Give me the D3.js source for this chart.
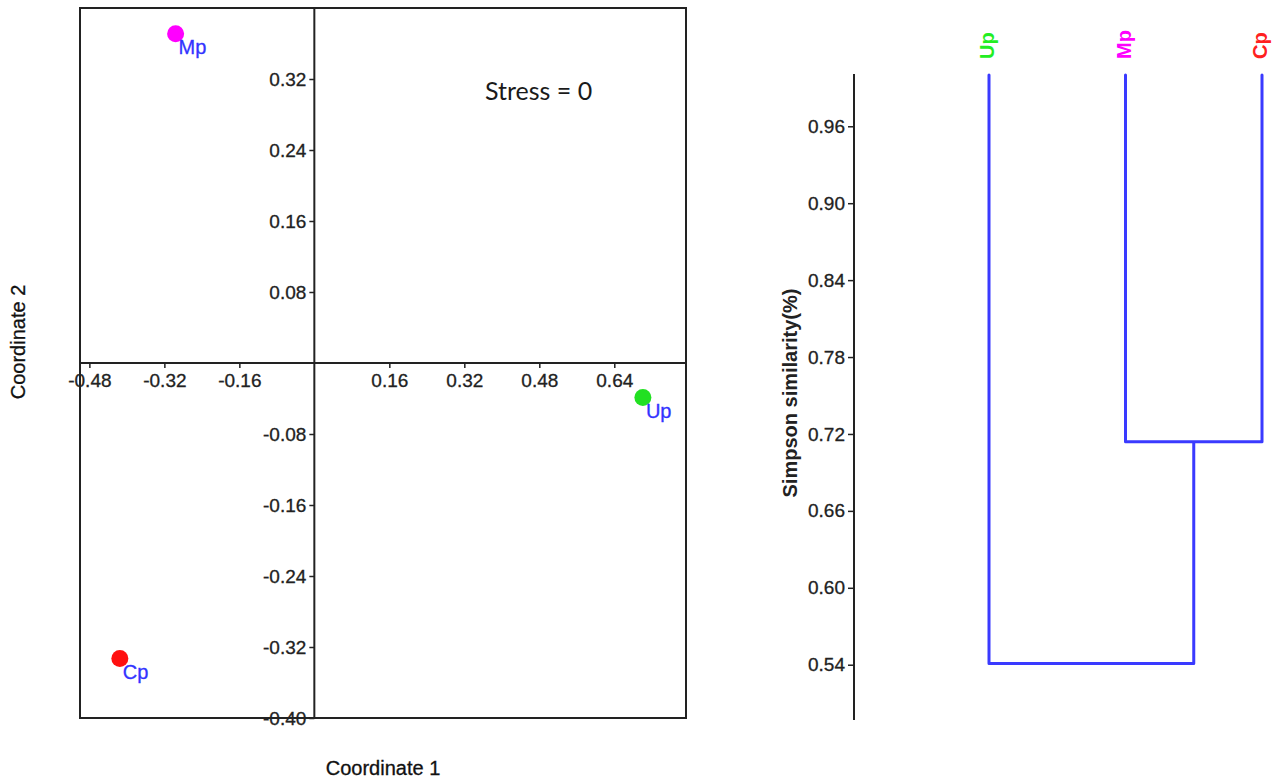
<!DOCTYPE html>
<html>
<head>
<meta charset="utf-8">
<script src="https://cdn.jsdelivr.net/npm/d3@7"></script>
<style>
  html, body { margin: 0; padding: 0; background: #fff; }
  svg { display: block; }
  text { font-family: "Liberation Sans", Arial, sans-serif; }
</style>
</head>
<body>
<svg id="chart" width="1281" height="782"></svg>
<script>
// ---- NMDS data ----
const sites = ["Mp", "Up", "Cp"];
const coord1 = [-0.296, 0.701, -0.415];
const coord2 = [0.371, -0.039, -0.333];
const siteColors = ["#ff00ff", "#22e022", "#ff1010"];
const xTicks = [-0.48, -0.32, -0.16, 0.16, 0.32, 0.48, 0.64];
const yTicks = [0.32, 0.24, 0.16, 0.08, -0.08, -0.16, -0.24, -0.32, -0.40];
const stressText = "Stress = 0";

// ---- Dendrogram data ----
const leaves = ["Up", "Mp", "Cp"];
const leafColors = ["#22ee22", "#ff00ff", "#ff2020"];
const mergeMpCp = 0.714;
const mergeRoot = 0.541;
const simTicks = [0.54, 0.60, 0.66, 0.72, 0.78, 0.84, 0.90, 0.96];

const svg = d3.select("#chart");

// ================= Left: NMDS scatter =================
const box = {l: 80, r: 686, t: 8, b: 718};
const x = d3.scaleLinear().domain([-0.5, 0.793]).range([box.l, box.r]);
const y = d3.scaleLinear().domain([-0.4, 0.4]).range([box.b, box.t]);
const fmt = d => d3.format(".2f")(d).replace("−", "-");

const left = svg.append("g");
left.append("rect")
  .attr("x", box.l).attr("y", box.t)
  .attr("width", box.r - box.l).attr("height", box.b - box.t)
  .attr("fill", "none").attr("stroke", "#222").attr("stroke-width", 2);

// horizontal axis at y=0
const xAxis = d3.axisBottom(x).tickValues(xTicks).tickSize(5).tickPadding(6).tickFormat(fmt);
const gx = left.append("g").attr("transform", `translate(0,${y(0)})`).call(xAxis);
gx.select(".domain").remove();
left.append("line").attr("x1", box.l).attr("x2", box.r).attr("y1", y(0)).attr("y2", y(0))
  .attr("stroke", "#222").attr("stroke-width", 2);

// vertical axis at x=0
const yAxis = d3.axisLeft(y).tickValues(yTicks).tickSize(5).tickPadding(3).tickFormat(fmt);
const gy = left.append("g").attr("transform", `translate(${x(0)},0)`).call(yAxis);
gy.select(".domain").remove();
left.append("line").attr("x1", x(0)).attr("x2", x(0)).attr("y1", box.t).attr("y2", box.b)
  .attr("stroke", "#222").attr("stroke-width", 2);

[gx, gy].forEach(g => {
  g.selectAll(".tick line").attr("stroke", "#222").attr("stroke-width", 1.5);
  g.selectAll(".tick text").attr("fill", "#222").style("font-size", "19px")
    .attr("stroke", "#222").attr("stroke-width", 0.3)
    .style("font-family", "'Liberation Sans', Arial, sans-serif");
});

// points
const pts = left.append("g");
sites.forEach((s, i) => {
  pts.append("circle").attr("cx", x(coord1[i])).attr("cy", y(coord2[i])).attr("r", 8.5)
    .attr("fill", siteColors[i]);
  pts.append("text").attr("x", x(coord1[i]) + 3).attr("y", y(coord2[i]) + 20)
    .attr("fill", "#3333ff").attr("stroke", "#3333ff").attr("stroke-width", 0.3)
    .style("font-size", "20px").text(s);
});

left.append("text").attr("x", 485).attr("y", 100)
  .style("font-family", "Lato, 'Open Sans', sans-serif").style("font-size", "25px")
  .attr("fill", "#1a1a1a").text(stressText);

left.append("text").attr("x", 383).attr("y", 775).attr("text-anchor", "middle")
  .style("font-size", "20px").attr("fill", "#111").attr("stroke", "#111").attr("stroke-width", 0.3)
  .text("Coordinate 1");
left.append("text").attr("transform", "translate(25,342) rotate(-90)").attr("text-anchor", "middle")
  .style("font-size", "20px").attr("fill", "#111").attr("stroke", "#111").attr("stroke-width", 0.3)
  .text("Coordinate 2");

// ================= Right: dendrogram =================
const sy = d3.scaleLinear().domain([0.5, 1.0]).range([716, 75]);
const sx = d3.scalePoint().domain(leaves).range([989, 1262]);

const tree = {sim: mergeRoot, children: [
  {name: "Up", sim: 1.0},
  {sim: mergeMpCp, children: [{name: "Mp", sim: 1.0}, {name: "Cp", sim: 1.0}]}
]};
const root = d3.hierarchy(tree);
root.eachAfter(n => {
  n.px = n.children ? d3.mean(n.children, c => c.px) : sx(n.data.name);
  n.py = sy(n.data.sim);
});

const right = svg.append("g");
const yAxisR = d3.axisLeft(sy).tickValues(simTicks).tickSize(6).tickPadding(3).tickFormat(d3.format(".2f"));
const gyr = right.append("g").attr("transform", "translate(854,0)").call(yAxisR);
gyr.select(".domain").attr("stroke", "#222").attr("stroke-width", 2);
gyr.selectAll(".tick line").attr("stroke", "#222").attr("stroke-width", 1.5);
gyr.selectAll(".tick text").attr("fill", "#222").style("font-size", "19px")
  .attr("stroke", "#222").attr("stroke-width", 0.3)
  .style("font-family", "'Liberation Sans', Arial, sans-serif");
gyr.select(".domain").attr("d", `M0,${sy.range()[0] + 4}V${sy.range()[1] - 1}`);

right.append("text").attr("transform", "translate(797,393) rotate(-90)").attr("text-anchor", "middle")
  .style("font-size", "20px").style("font-weight", "bold").attr("fill", "#222")
  .text("Simpson similarity(%)");

const links = root.links();
const path = d3.path();
links.forEach(l => {
  path.moveTo(l.target.px, l.target.py);
  path.lineTo(l.target.px, l.source.py);
  path.lineTo(l.source.px, l.source.py);
});
right.append("path").attr("d", path.toString()).attr("fill", "none")
  .attr("stroke", "#3a3aff").attr("stroke-width", 3).attr("stroke-linejoin", "round").attr("stroke-linecap", "round");

root.leaves().forEach(lf => {
  right.append("text").attr("transform", `translate(${lf.px + 5},59) rotate(-90)`)
    .attr("text-anchor", "start").style("font-size", "20px").style("font-weight", "bold")
    .attr("fill", leafColors[leaves.indexOf(lf.data.name)]).text(lf.data.name);
});
</script>
</body>
</html>
